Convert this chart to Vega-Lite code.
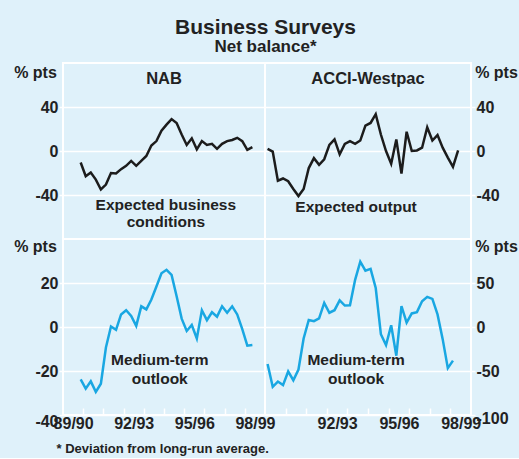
{
  "$schema": "https://vega.github.io/schema/vega-lite/v6.json",
  "background": "#dff1fa",
  "padding": {"left": 12, "top": 17, "right": 2, "bottom": 2},
  "title": {
    "text": "Business Surveys",
    "subtitle": "Net balance*",
    "anchor": "middle",
    "frame": "bounds",
    "font": "Liberation Sans",
    "fontSize": 21,
    "fontWeight": "bold",
    "color": "#222222",
    "subtitleFont": "Liberation Sans",
    "subtitleFontSize": 17,
    "subtitleFontWeight": "bold",
    "subtitleColor": "#222222",
    "subtitlePadding": 1,
    "offset": 7
  },
  "datasets": {
    "series": [
      {"s": "tl", "t": 0.875, "v": -10.5}, {"s": "tl", "t": 1.125, "v": -23}, {"s": "tl", "t": 1.375, "v": -19.5}, {"s": "tl", "t": 1.625, "v": -26}, {"s": "tl", "t": 1.875, "v": -35},
      {"s": "tl", "t": 2.125, "v": -30.5}, {"s": "tl", "t": 2.375, "v": -20}, {"s": "tl", "t": 2.625, "v": -20.5}, {"s": "tl", "t": 2.875, "v": -16.5}, {"s": "tl", "t": 3.125, "v": -13.5},
      {"s": "tl", "t": 3.375, "v": -9}, {"s": "tl", "t": 3.625, "v": -13.5}, {"s": "tl", "t": 3.875, "v": -9}, {"s": "tl", "t": 4.125, "v": -4.5}, {"s": "tl", "t": 4.375, "v": 5},
      {"s": "tl", "t": 4.625, "v": 9}, {"s": "tl", "t": 4.875, "v": 18.5}, {"s": "tl", "t": 5.125, "v": 24}, {"s": "tl", "t": 5.375, "v": 29}, {"s": "tl", "t": 5.625, "v": 25.5},
      {"s": "tl", "t": 5.875, "v": 15}, {"s": "tl", "t": 6.125, "v": 5.5}, {"s": "tl", "t": 6.375, "v": 11.5}, {"s": "tl", "t": 6.625, "v": 1.5}, {"s": "tl", "t": 6.875, "v": 9},
      {"s": "tl", "t": 7.125, "v": 5.5}, {"s": "tl", "t": 7.375, "v": 6.5}, {"s": "tl", "t": 7.625, "v": 2}, {"s": "tl", "t": 7.875, "v": 6.5}, {"s": "tl", "t": 8.125, "v": 9},
      {"s": "tl", "t": 8.375, "v": 10}, {"s": "tl", "t": 8.625, "v": 12}, {"s": "tl", "t": 8.875, "v": 9}, {"s": "tl", "t": 9.125, "v": 1}, {"s": "tl", "t": 9.375, "v": 3.5},

      {"s": "tr", "t": 0.125, "v": 2}, {"s": "tr", "t": 0.375, "v": -0.5}, {"s": "tr", "t": 0.625, "v": -27}, {"s": "tr", "t": 0.875, "v": -25}, {"s": "tr", "t": 1.125, "v": -27.5},
      {"s": "tr", "t": 1.375, "v": -34.5}, {"s": "tr", "t": 1.625, "v": -41}, {"s": "tr", "t": 1.875, "v": -34.5}, {"s": "tr", "t": 2.125, "v": -15.5}, {"s": "tr", "t": 2.375, "v": -6.5},
      {"s": "tr", "t": 2.625, "v": -12.5}, {"s": "tr", "t": 2.875, "v": -7.5}, {"s": "tr", "t": 3.125, "v": 5.5}, {"s": "tr", "t": 3.375, "v": 10.5}, {"s": "tr", "t": 3.625, "v": -3},
      {"s": "tr", "t": 3.875, "v": 6.5}, {"s": "tr", "t": 4.125, "v": 9}, {"s": "tr", "t": 4.375, "v": 6.5}, {"s": "tr", "t": 4.625, "v": 9.5}, {"s": "tr", "t": 4.875, "v": 23},
      {"s": "tr", "t": 5.125, "v": 25.5}, {"s": "tr", "t": 5.375, "v": 33.5}, {"s": "tr", "t": 5.625, "v": 15}, {"s": "tr", "t": 5.875, "v": 0}, {"s": "tr", "t": 6.125, "v": -11.5},
      {"s": "tr", "t": 6.375, "v": 10.5}, {"s": "tr", "t": 6.625, "v": -20.5}, {"s": "tr", "t": 6.875, "v": 17.5}, {"s": "tr", "t": 7.125, "v": 0}, {"s": "tr", "t": 7.375, "v": 0.5},
      {"s": "tr", "t": 7.625, "v": 3}, {"s": "tr", "t": 7.875, "v": 21.5}, {"s": "tr", "t": 8.125, "v": 9.5}, {"s": "tr", "t": 8.375, "v": 14.5}, {"s": "tr", "t": 8.625, "v": 3},
      {"s": "tr", "t": 8.875, "v": -6}, {"s": "tr", "t": 9.125, "v": -14.5}, {"s": "tr", "t": 9.375, "v": 0.5},

      {"s": "bl", "t": 0.875, "v": -23.8}, {"s": "bl", "t": 1.125, "v": -28}, {"s": "bl", "t": 1.375, "v": -24.7}, {"s": "bl", "t": 1.625, "v": -29.5}, {"s": "bl", "t": 1.875, "v": -25.8},
      {"s": "bl", "t": 2.125, "v": -9.3}, {"s": "bl", "t": 2.375, "v": 0.2}, {"s": "bl", "t": 2.625, "v": -1.3}, {"s": "bl", "t": 2.875, "v": 5.7}, {"s": "bl", "t": 3.125, "v": 7.6},
      {"s": "bl", "t": 3.375, "v": 5}, {"s": "bl", "t": 3.625, "v": 0.5}, {"s": "bl", "t": 3.875, "v": 9.4}, {"s": "bl", "t": 4.125, "v": 8}, {"s": "bl", "t": 4.375, "v": 12.5},
      {"s": "bl", "t": 4.625, "v": 18.4}, {"s": "bl", "t": 4.875, "v": 24.4}, {"s": "bl", "t": 5.125, "v": 26}, {"s": "bl", "t": 5.375, "v": 23.7}, {"s": "bl", "t": 5.625, "v": 14},
      {"s": "bl", "t": 5.875, "v": 3.8}, {"s": "bl", "t": 6.125, "v": -1.8}, {"s": "bl", "t": 6.375, "v": 0.9}, {"s": "bl", "t": 6.625, "v": -5.2}, {"s": "bl", "t": 6.875, "v": 7.6},
      {"s": "bl", "t": 7.125, "v": 3.1}, {"s": "bl", "t": 7.375, "v": 6.7}, {"s": "bl", "t": 7.625, "v": 4.7}, {"s": "bl", "t": 7.875, "v": 9.4}, {"s": "bl", "t": 8.125, "v": 6.5},
      {"s": "bl", "t": 8.375, "v": 9.4}, {"s": "bl", "t": 8.625, "v": 5.7}, {"s": "bl", "t": 8.875, "v": -1}, {"s": "bl", "t": 9.125, "v": -8.5}, {"s": "bl", "t": 9.375, "v": -8.2},

      {"s": "br", "t": 0.125, "v": -42}, {"s": "br", "t": 0.375, "v": -68}, {"s": "br", "t": 0.625, "v": -62}, {"s": "br", "t": 0.875, "v": -66}, {"s": "br", "t": 1.125, "v": -50.5},
      {"s": "br", "t": 1.375, "v": -60.5}, {"s": "br", "t": 1.625, "v": -48.3}, {"s": "br", "t": 1.875, "v": -13}, {"s": "br", "t": 2.125, "v": 8}, {"s": "br", "t": 2.375, "v": 6.7},
      {"s": "br", "t": 2.625, "v": 9.8}, {"s": "br", "t": 2.875, "v": 27.4}, {"s": "br", "t": 3.125, "v": 16.2}, {"s": "br", "t": 3.375, "v": 19.1}, {"s": "br", "t": 3.625, "v": 30.3},
      {"s": "br", "t": 3.875, "v": 24.4}, {"s": "br", "t": 4.125, "v": 24.7}, {"s": "br", "t": 4.375, "v": 53.6}, {"s": "br", "t": 4.625, "v": 74.2}, {"s": "br", "t": 4.875, "v": 64},
      {"s": "br", "t": 5.125, "v": 66}, {"s": "br", "t": 5.375, "v": 44.3}, {"s": "br", "t": 5.625, "v": -8.2}, {"s": "br", "t": 5.875, "v": -20.6}, {"s": "br", "t": 6.125, "v": 1.9},
      {"s": "br", "t": 6.375, "v": -32.6}, {"s": "br", "t": 6.625, "v": 23.6}, {"s": "br", "t": 6.875, "v": 4.9}, {"s": "br", "t": 7.125, "v": 15.4}, {"s": "br", "t": 7.375, "v": 16.9},
      {"s": "br", "t": 7.625, "v": 29.2}, {"s": "br", "t": 7.875, "v": 34.2}, {"s": "br", "t": 8.125, "v": 31.9}, {"s": "br", "t": 8.375, "v": 14.3}, {"s": "br", "t": 8.625, "v": -13.8},
      {"s": "br", "t": 8.875, "v": -46.7}, {"s": "br", "t": 9.125, "v": -38.2}
    ],
    "notes": [
      {"s": "tl", "t": 5.09, "v": -49.4, "label": "Expected business"},
      {"s": "tl", "t": 5.09, "v": -64.3, "label": "conditions"},
      {"s": "tr", "t": 4.42, "v": -51.2, "label": "Expected output"},
      {"s": "bl", "t": 4.79, "v": -15.2, "label": "Medium-term"},
      {"s": "bl", "t": 4.79, "v": -23.5, "label": "outlook"},
      {"s": "br", "t": 4.42, "v": -38, "label": "Medium-term"},
      {"s": "br", "t": 4.42, "v": -58.8, "label": "outlook"}
    ]
  },
  "spacing": 0,
  "bounds": "flush",
  "columns": 2,
  "concat": [
    {
      "width": 202,
      "height": 176,
      "title": {"text": "NAB", "offset": -24},
      "encoding": {
        "x": {"field": "t", "type": "quantitative", "scale": {"domain": [0, 10], "nice": false, "zero": false}, "axis": null},
        "y": {"field": "v", "type": "quantitative", "scale": {"domain": [-80, 80], "nice": false}, "axis": {"orient": "left", "values": [-40, 0, 40], "title": "% pts", "titleX": -28, "titleY": 9}}
      },
      "layer": [
        {"data": {"name": "series"}, "transform": [{"filter": "datum.s == 'tl'"}], "mark": {"type": "line", "color": "#1c1c1c", "strokeWidth": 2.5}},
        {"data": {"name": "notes"}, "transform": [{"filter": "datum.s == 'tl'"}], "mark": {"type": "text"}, "encoding": {"text": {"field": "label"}}}
      ]
    },
    {
      "width": 206,
      "height": 176,
      "title": {"text": "ACCI-Westpac", "offset": -24},
      "encoding": {
        "x": {"field": "t", "type": "quantitative", "scale": {"domain": [0, 10], "nice": false, "zero": false}, "axis": null},
        "y": {"field": "v", "type": "quantitative", "scale": {"domain": [-80, 80], "nice": false}, "axis": {"orient": "right", "values": [-40, 0, 40], "title": "% pts", "titleX": 25, "titleY": 9}}
      },
      "layer": [
        {"data": {"name": "series"}, "transform": [{"filter": "datum.s == 'tr'"}], "mark": {"type": "line", "color": "#1c1c1c", "strokeWidth": 2.5}},
        {"data": {"name": "notes"}, "transform": [{"filter": "datum.s == 'tr'"}], "mark": {"type": "text"}, "encoding": {"text": {"field": "label"}}}
      ]
    },
    {
      "width": 202,
      "height": 176,
      "encoding": {
        "x": {"field": "t", "type": "quantitative", "scale": {"domain": [0, 10], "nice": false, "zero": false},
          "axis": {
            "values": [0.5, 1, 2, 3, 3.5, 4, 5, 6, 6.5, 7, 8, 9, 9.5],
            "labelExpr": "datum.value == 0.5 ? '89/90' : datum.value == 3.5 ? '92/93' : datum.value == 6.5 ? '95/96' : datum.value == 9.5 ? '98/99' : ''",
            "grid": false,
            "tickSize": -7,
            "tickOpacity": {"condition": {"test": "datum.value % 1 != 0", "value": 0}, "value": 1},
            "labelPadding": 7,
            "labelOverlap": false,
            "labelFlush": false,
            "labelBound": false,
            "title": "* Deviation from long-run average.",
            "titleX": -7,
            "titleY": 33,
            "titleAlign": "left",
            "titleAnchor": "start",
            "titleBaseline": "middle",
            "titleFontSize": 13
          }},
        "y": {"field": "v", "type": "quantitative", "scale": {"domain": [-40, 40], "nice": false},
          "axis": {"orient": "left", "values": [-40, -20, 0, 20], "title": "% pts", "titleX": -28, "titleY": 7,
            "labelOffset": {"condition": {"test": "datum.value == -40", "value": 6}, "value": 0}}}
      },
      "layer": [
        {"data": {"name": "series"}, "transform": [{"filter": "datum.s == 'bl'"}], "mark": {"type": "line", "color": "#19a7e2", "strokeWidth": 2.5}},
        {"data": {"name": "notes"}, "transform": [{"filter": "datum.s == 'bl'"}], "mark": {"type": "text"}, "encoding": {"text": {"field": "label"}}}
      ]
    },
    {
      "width": 206,
      "height": 176,
      "encoding": {
        "x": {"field": "t", "type": "quantitative", "scale": {"domain": [0, 10], "nice": false, "zero": false},
          "axis": {
            "values": [1, 2, 3, 3.5, 4, 5, 6, 6.5, 7, 8, 9, 9.5],
            "labelExpr": "datum.value == 3.5 ? '92/93' : datum.value == 6.5 ? '95/96' : datum.value == 9.5 ? '98/99' : ''",
            "grid": false,
            "tickSize": -7,
            "tickOpacity": {"condition": {"test": "datum.value % 1 != 0", "value": 0}, "value": 1},
            "labelPadding": 7,
            "labelOverlap": false,
            "labelFlush": false,
            "labelBound": false,
            "title": null
          }},
        "y": {"field": "v", "type": "quantitative", "scale": {"domain": [-100, 100], "nice": false},
          "axis": {"orient": "right", "values": [-100, -50, 0, 50], "title": "% pts", "titleX": 25, "titleY": 7,
            "labelOffset": {"condition": {"test": "datum.value == -100", "value": 3}, "value": 0}}}
      },
      "layer": [
        {"data": {"name": "series"}, "transform": [{"filter": "datum.s == 'br'"}], "mark": {"type": "line", "color": "#19a7e2", "strokeWidth": 2.5}},
        {"data": {"name": "notes"}, "transform": [{"filter": "datum.s == 'br'"}], "mark": {"type": "text"}, "encoding": {"text": {"field": "label"}}}
      ]
    }
  ],
  "config": {
    "font": "Liberation Sans",
    "view": {"stroke": "white", "strokeWidth": 2},
    "axis": {
      "domain": false,
      "grid": true,
      "gridColor": "white",
      "gridWidth": 1.5,
      "gridOpacity": 1,
      "tickColor": "white",
      "tickWidth": 1.5,
      "tickSize": 4,
      "labelPadding": 1,
      "labelFont": "Liberation Sans",
      "labelFontSize": 16,
      "labelFontWeight": "bold",
      "labelColor": "#222222",
      "titleFont": "Liberation Sans",
      "titleFontSize": 16,
      "titleFontWeight": "bold",
      "titleColor": "#222222",
      "titleAngle": 0,
      "titleAlign": "center",
      "titleBaseline": "middle"
    },
    "axisY": {"labelExpr": "'' + datum.value"},
    "axisX": {"labelBaseline": "top"},
    "title": {"font": "Liberation Sans", "fontSize": 16.5, "fontWeight": "bold", "color": "#222222", "anchor": "middle", "frame": "group"},
    "text": {"font": "Liberation Sans", "fontSize": 15.5, "fontWeight": "bold", "color": "#222222", "align": "center", "baseline": "middle"}
  }
}
